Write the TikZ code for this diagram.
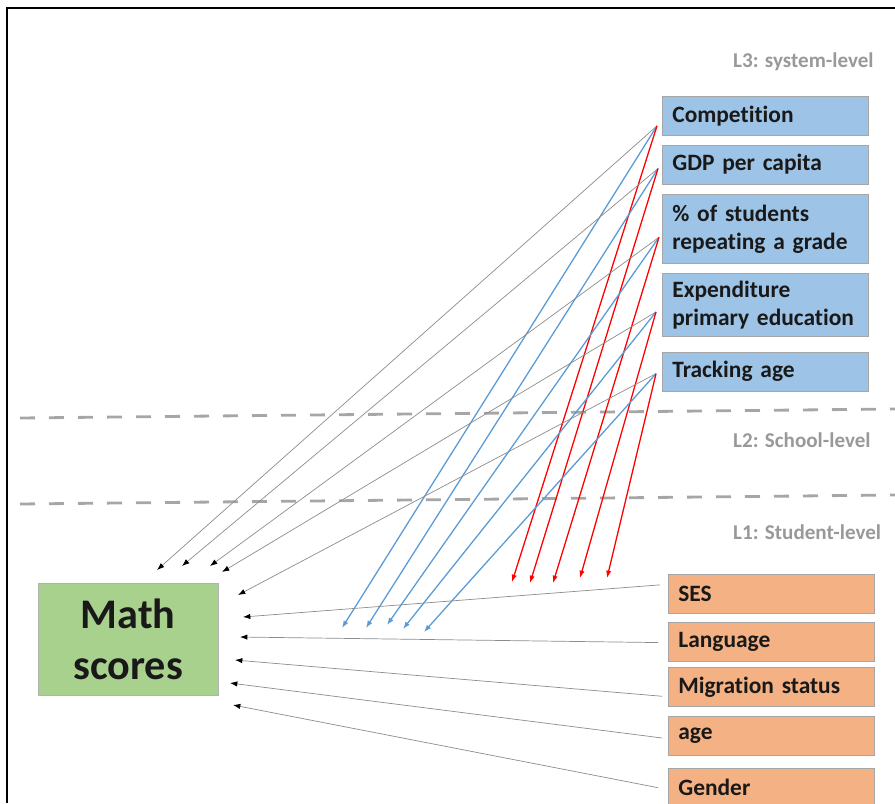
\documentclass[tikz,border=0pt]{standalone}
\usepackage{fontspec}
\setmainfont{Carlito}[Ligatures=NoCommon]
\usetikzlibrary{positioning}
\usetikzlibrary{arrows.meta}
\definecolor{sysfill}{HTML}{9DC3E6}
\definecolor{stufill}{HTML}{F4B183}
\definecolor{scorefill}{HTML}{A9D18E}
\definecolor{arrblue}{HTML}{5B9BD5}
\tikzset{x=0.03cm, y=-0.03cm, % One unit is one pixel of the original picture
      box/.style={ % Sets the common look of every box
      draw=black!35,
      line width=0.6pt,
      text=black!90,
      font=\fontsize{20}{24.5}\selectfont\bfseries,
      inner xsep=0.3cm,
      minimum height=1.17cm,
      text width=5.58cm,
      align=left},
      sysbox/.style={box, fill=sysfill}, % System-level factors
      stubox/.style={box, fill=stufill}, % Student-level factors
      lvl/.style={anchor=west, text=black!40, font=\fontsize{18}{21}\selectfont\bfseries},
      levelline/.style={draw=black!35, line width=2.4pt, dash pattern=on 0.45cm off 0.42cm},
      every edge/.style={ % Sets the properties for each arrow
            draw,
      -{Latex[length=2.2mm,width=1.6mm]},
      line width=0.6pt},
      grayarr/.style={draw=black!45, -{Latex[black,length=2.2mm,width=1.6mm]}},
      bluearr/.style={draw=arrblue, line width=1.1pt},
      redarr/.style={draw=red, line width=1.1pt}}

\begin{document}
\begin{tikzpicture}
      \useasboundingbox (0,0) rectangle (895,803);
      \draw[line width=0.06cm] (7,803) -- (7,8) -- (895,8);
      % levels
      \draw[levelline] (20,418) -- (895,409);
      \draw[levelline] (20,504) -- (895,495);
      \node[lvl] (l3) at (729,62) {L3: system-level};
      \node[lvl] (l2) at (729,440) {L2: School-level};
      \node[lvl] (l1) at (729,532) {L1: Student-level};
      % system-level
      \node[sysbox, anchor=north west] (comp) at (662,96) {Competition};
      \node[sysbox, below=0.27cm of comp] (gdp) {GDP per capita};
      \node[sysbox, below=0.3cm of gdp, minimum height=2.07cm] (rep) {\% of students\\repeating a grade};
      \node[sysbox, below=0.27cm of rep, minimum height=1.89cm] (exp) {Expenditure\\primary education};
      \node[sysbox, below=0.45cm of exp] (track) {Tracking age};
      % student-level
      \node[stubox, anchor=north west] (ses) at (668,574) {SES};
      \node[stubox, below=0.24cm of ses] (lang) {Language};
      \node[stubox, below=0.18cm of lang] (mig) {Migration status};
      \node[stubox, below=0.27cm of mig] (age) {age};
      \node[stubox, below=0.36cm of age] (gender) {Gender};
      % outcome
      \node[draw=black!30, fill=scorefill, anchor=north west, minimum width=5.4cm, minimum height=3.36cm,
            align=center, font=\fontsize{36}{43}\selectfont\bfseries, text=black!90] (math) at (38,583) {Math\\scores};

      \coordinate (comp-o) at ([shift={(-5,10)}]comp.west);
      \coordinate (gdp-o) at ([shift={(-4,4)}]gdp.west);
      \coordinate (rep-o) at ([shift={(-3,8)}]rep.west);
      \coordinate (exp-o) at ([shift={(-6,7)}]exp.west);
      \coordinate (track-o) at ([shift={(-6,2)}]track.west);
      \coordinate (ses-o) at ([shift={(-8,-9)}]ses.west);
      \coordinate (lang-o) at ([shift={(-10,1)}]lang.west);
      \coordinate (mig-o) at ([shift={(-6,9)}]mig.west);
      \coordinate (age-o) at ([shift={(-6,2)}]age.west);
      \coordinate (gender-o) at ([shift={(-10,0)}]gender.west);
      % arrow tips
      \coordinate (g1) at (157,570); \coordinate (g2) at (182,566); \coordinate (g3) at (210,566);
      \coordinate (g4) at (222,572); \coordinate (g5) at (238,595);
      \coordinate (b1) at (342,628); \coordinate (b2) at (366,628); \coordinate (b3) at (387,625);
      \coordinate (b4) at (403,629); \coordinate (b5) at (424,632);
      \coordinate (r1) at (512,582); \coordinate (r2) at (530,583); \coordinate (r3) at (553,583);
      \coordinate (r4) at (580,578); \coordinate (r5) at (607,578);
      \coordinate (s1) at (243,617); \coordinate (s2) at (240,637); \coordinate (s3) at (235,660);
      \coordinate (s4) at (230,683); \coordinate (s5) at (233,705);

      \draw (comp-o) edge[grayarr] (g1) edge[bluearr] (b1) edge[redarr] (r1);
      \draw (gdp-o) edge[grayarr] (g2) edge[bluearr] (b2) edge[redarr] (r2);
      \draw (rep-o) edge[grayarr] (g3) edge[bluearr] (b3) edge[redarr] (r3);
      \draw (exp-o) edge[grayarr] (g4) edge[bluearr] (b4) edge[redarr] (r4);
      \draw (track-o) edge[grayarr] (g5) edge[bluearr] (b5) edge[redarr] (r5);
      \draw (ses-o) edge[grayarr] (s1);
      \draw (lang-o) edge[grayarr] (s2);
      \draw (mig-o) edge[grayarr] (s3);
      \draw (age-o) edge[grayarr] (s4);
      \draw (gender-o) edge[grayarr] (s5);
\end{tikzpicture}
\end{document}
